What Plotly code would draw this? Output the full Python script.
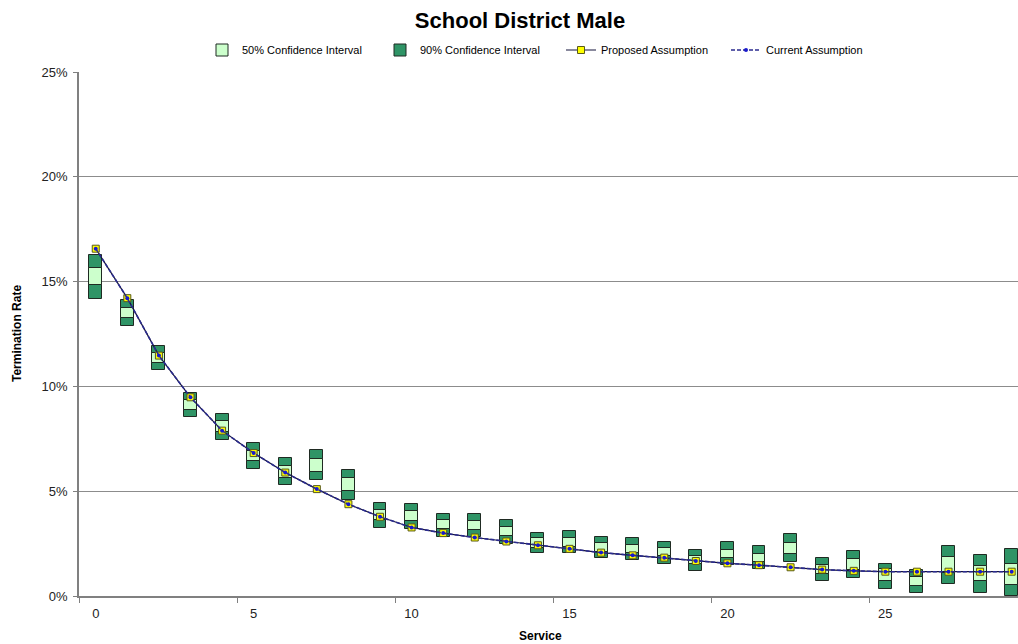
import plotly.graph_objects as go

# Years of service (category positions 0..29)
service = list(range(30))

# Confidence bands of observed termination rates (percent)
ci90_high = [16.25, 14.10, 11.92, 9.67, 8.69, 7.28, 6.58, 6.96, 6.02, 4.45,
             4.41, 3.93, 3.90, 3.62, 3.01, 3.11, 2.83, 2.77, 2.60, 2.18,
             2.58, 2.38, 2.95, 1.80, 2.15, 1.54, 1.23, 2.39, 1.96, 2.23]
ci50_high = [15.65, 13.75, 11.58, 9.35, 8.33, 6.93, 6.18, 6.53, 5.61, 4.10,
             4.06, 3.63, 3.59, 3.31, 2.76, 2.79, 2.52, 2.45, 2.28, 1.90,
             2.20, 2.02, 2.52, 1.48, 1.75, 1.28, 0.91, 1.88, 1.43, 1.52]
ci50_low = [14.85, 13.27, 11.10, 8.88, 7.84, 6.42, 5.65, 5.94, 5.02, 3.62,
            3.59, 3.19, 3.14, 2.87, 2.31, 2.36, 2.12, 2.06, 1.90, 1.52,
            1.83, 1.61, 2.02, 1.07, 1.23, 0.72, 0.46, 1.11, 0.72, 0.53]
ci90_low = [14.18, 12.90, 10.76, 8.52, 7.46, 6.04, 5.29, 5.53, 4.57, 3.25,
            3.22, 2.83, 2.83, 2.47, 2.04, 2.07, 1.80, 1.72, 1.54, 1.20,
            1.47, 1.29, 1.64, 0.72, 0.88, 0.35, 0.13, 0.59, 0.14, 0.00]

# Assumed termination rates (percent)
proposed = [16.57, 14.21, 11.47, 9.48, 7.89, 6.82, 5.89, 5.10, 4.38, 3.78,
            3.27, 3.00, 2.79, 2.60, 2.42, 2.25, 2.07, 1.94, 1.83, 1.67,
            1.56, 1.47, 1.37, 1.26, 1.20, 1.16, 1.16, 1.16, 1.16, 1.16]
current = [16.57, 14.21, 11.47, 9.48, 7.89, 6.82, 5.89, 5.10, 4.38, 3.78,
           3.27, 3.00, 2.79, 2.60, 2.42, 2.25, 2.07, 1.94, 1.83, 1.67,
           1.56, 1.47, 1.37, 1.26, 1.20, 1.16, 1.16, 1.16, 1.16, 1.16]

x_ticks = [0, 5, 10, 15, 20, 25]
y_ticks = [0, 5, 10, 15, 20, 25]
y_tick_text = ["0%", "5%", "10%", "15%", "20%", "25%"]

FONT = "Liberation Sans, Arial, sans-serif"
DARK_GREEN = "#2f9466"
LIGHT_GREEN = "#ccffcc"
BAR_W = 0.41

W, H = 1018, 644
ML, MR, MT, MB = 79, 0, 72, 48


def px_x(px):
    return (px - ML) / (W - ML - MR)


def px_y(py):
    return (H - MB - py) / (H - MT - MB)


fig = go.Figure()

fig.add_trace(go.Bar(
    x=service,
    y=[h - l for h, l in zip(ci90_high, ci90_low)],
    base=ci90_low,
    width=BAR_W,
    marker=dict(color=DARK_GREEN, line=dict(color="#1f2a22", width=1)),
    name="90% Confidence Interval",
    legend="legend2",
))
fig.add_trace(go.Bar(
    x=service,
    y=[h - l for h, l in zip(ci50_high, ci50_low)],
    base=ci50_low,
    width=BAR_W,
    marker=dict(color=LIGHT_GREEN, line=dict(color="#1f2a22", width=1)),
    name="50% Confidence Interval",
    legend="legend",
))
fig.add_trace(go.Scatter(
    x=service, y=proposed,
    mode="lines+markers",
    line=dict(color="#14143c", width=1.2),
    marker=dict(symbol="square", size=7, color="#ffff00",
                line=dict(color="#5a5a1a", width=1)),
    name="Proposed Assumption",
    legend="legend3",
))
fig.add_trace(go.Scatter(
    x=service, y=current,
    mode="lines+markers",
    line=dict(color="#2b2b8f", width=1.6, dash="4px,2px"),
    marker=dict(symbol="circle", size=4, color="#1a1acc"),
    name="Current Assumption",
    legend="legend4",
))


def legend_box(px_left):
    return dict(orientation="h", x=px_x(px_left), xanchor="left",
                y=px_y(50), yanchor="middle",
                font=dict(family=FONT, size=11, color="#000000"),
                itemwidth=30, bgcolor="rgba(0,0,0,0)")


fig.update_layout(
    width=W, height=H,
    margin=dict(l=ML, r=MR, t=MT, b=MB),
    paper_bgcolor="white",
    plot_bgcolor="white",
    barmode="overlay",
    bargap=0,
    font=dict(family=FONT, color="#222222"),
    title=dict(text="<b>School District Male</b>",
               font=dict(family=FONT, size=22, color="#000000"),
               x=520 / W, xanchor="center",
               y=1 - 20 / H, yanchor="middle"),
    showlegend=True,
    legend=legend_box(202),
    legend2=legend_box(380),
    legend3=legend_box(561),
    legend4=legend_box(726),
    xaxis=dict(
        range=[-0.53, 29.2],
        tickmode="array", tickvals=x_ticks,
        ticks="outside", ticklen=5, tickcolor="rgba(0,0,0,0)",
        tickfont=dict(family=FONT, size=13, color="#222222"),
        showline=True, linecolor="#808080", linewidth=1.5,
        showgrid=False, zeroline=False,
        minor=dict(tickmode="linear", tick0=-0.5, dtick=5,
                   ticks="outside", ticklen=5, tickcolor="#808080",
                   showgrid=False),
    ),
    yaxis=dict(
        range=[0, 25],
        tickmode="array", tickvals=y_ticks, ticktext=y_tick_text,
        ticks="outside", ticklen=4, tickcolor="#808080",
        tickfont=dict(family=FONT, size=13, color="#222222"),
        ticklabelstandoff=3,
        showline=True, linecolor="#808080", linewidth=1.5,
        showgrid=True, gridcolor="#8c8c8c", gridwidth=1,
        zeroline=False,
    ),
    annotations=[
        dict(text="<b>Termination Rate</b>", xref="paper", yref="paper",
             x=px_x(17), y=0.5, xanchor="center", yanchor="middle",
             textangle=-90, showarrow=False,
             font=dict(family=FONT, size=12, color="#000000")),
        dict(text="<b>Service</b>", xref="paper", yref="paper",
             x=px_x(540), y=px_y(636), xanchor="center", yanchor="middle",
             showarrow=False,
             font=dict(family=FONT, size=12, color="#000000")),
    ],
)

fig.write_html("out.html")
